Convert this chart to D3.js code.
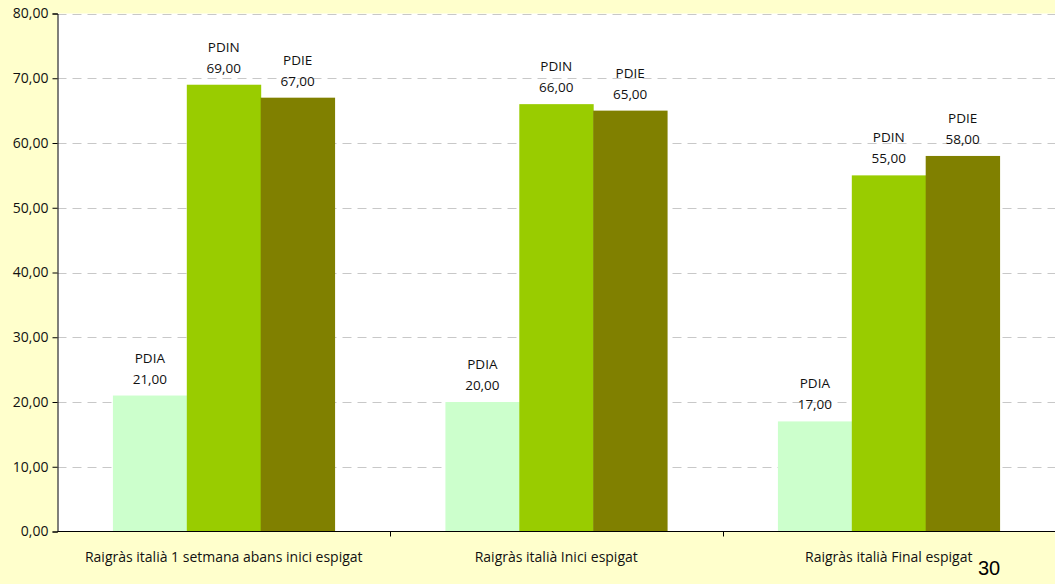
<!DOCTYPE html>
<html>
<head>
<meta charset="utf-8">
<script src="https://cdn.jsdelivr.net/npm/d3@7"></script>
<style>
  body { margin: 0; background: #ffffcc; }
  svg { display: block; }
</style>
</head>
<body>
<div class="viz"></div>
<script>
// data
var categories = ["Raigràs italià 1 setmana abans inici espigat", "Raigràs italià Inici espigat", "Raigràs italià Final espigat"];
var seriesNames = ["PDIA", "PDIN", "PDIE"];
var pdia = [21, 20, 17];
var pdin = [69, 66, 55];
var pdie = [67, 65, 58];
var yTicks = [0, 10, 20, 30, 40, 50, 60, 70, 80];
var colors = ["#ccffcc", "#99cc00", "#808000"];

var w = 1055;
var h = 584;
var plotL = 57.5, plotT = 13.5, plotB = 531.5, plotR = 1055;

var dataset = categories.map(function(c, i) {
    return { cat: c, values: [pdia[i], pdin[i], pdie[i]] };
});

var fmt = function(v) { return d3.format(".2f")(v).replace(".", ","); };

var xScale = d3.scaleBand()
            .domain(categories)
            .range([plotL, plotR])
            .paddingInner(0)
            .paddingOuter(0);

// Excel gap width 150%: bar group = 3 bars, gap = 1.5 bar
var barW = xScale.bandwidth() / 4.5;
var xInner = d3.scaleBand()
            .domain(seriesNames)
            .range([barW * 0.75, barW * 3.75]);

var yScale = d3.scaleLinear()
            .domain([0, 80])
            .range([plotB, plotT]);

var svg = d3.select(".viz")
        .append("svg")
        .attr("width", w)
        .attr("height", h);

svg.append("rect")
    .attr("x", 0).attr("y", 0)
    .attr("width", w).attr("height", h)
    .attr("fill", "#ffffcc");

svg.append("rect")
    .attr("x", plotL).attr("y", plotT)
    .attr("width", plotR - plotL).attr("height", plotB - plotT)
    .attr("fill", "white");

// gridlines
svg.append("g")
    .selectAll("line")
    .data(yTicks.slice(1))
    .enter()
    .append("line")
    .attr("x1", plotL)
    .attr("x2", plotR)
    .attr("y1", function(d) { return Math.round(yScale(d)) + 0.5; })
    .attr("y2", function(d) { return Math.round(yScale(d)) + 0.5; })
    .attr("stroke", "#c8c8c8")
    .attr("stroke-dasharray", "9,6");

// bars
var groups = svg.selectAll("g.grp")
    .data(dataset)
    .enter()
    .append("g")
    .attr("class", "grp")
    .attr("transform", function(d) { return "translate(" + xScale(d.cat) + ",0)"; });

groups.selectAll("rect")
    .data(function(d) { return d.values.map(function(v, i) { return { name: seriesNames[i], v: v, i: i }; }); })
    .enter()
    .append("rect")
    .attr("x", function(d) { return xInner(d.name); })
    .attr("y", function(d) { return yScale(d.v); })
    .attr("width", xInner.bandwidth() + 0.5)
    .attr("height", function(d) { return plotB - yScale(d.v); })
    .attr("fill", function(d) { return colors[d.i]; });

// labels
var lbl = groups.selectAll("text")
    .data(function(d) { return d.values.map(function(v, i) { return { name: seriesNames[i], v: v }; }); })
    .enter()
    .append("text")
    .attr("text-anchor", "middle")
    .attr("font-family", "'Open Sans', sans-serif")
    .attr("font-size", "13.5px")
    .attr("fill", "#111");

lbl.append("tspan")
    .attr("x", function(d) { return xInner(d.name) + xInner.bandwidth() / 2; })
    .attr("y", function(d) { return yScale(d.v) - 33; })
    .text(function(d) { return d.name; });

lbl.append("tspan")
    .attr("x", function(d) { return xInner(d.name) + xInner.bandwidth() / 2; })
    .attr("y", function(d) { return yScale(d.v) - 12; })
    .text(function(d) { return fmt(d.v); });

// y axis
var yaxis = d3.axisLeft(yScale)
            .tickValues(yTicks)
            .tickFormat(fmt)
            .tickSize(5)
            .tickPadding(4);

var gy = svg.append("g")
    .attr("transform", "translate(" + plotL + ",0)")
    .call(yaxis);
gy.select(".domain").attr("stroke", "#000");
gy.selectAll(".tick line").attr("stroke", "#000");
gy.selectAll("text")
    .attr("font-family", "'Open Sans', sans-serif")
    .attr("font-size", "14px")
    .attr("fill", "#111");

// x axis
svg.append("line")
    .attr("x1", plotL).attr("x2", plotR)
    .attr("y1", plotB).attr("y2", plotB)
    .attr("stroke", "#000");

svg.append("g")
    .selectAll("line")
    .data(categories.slice(1))
    .enter()
    .append("line")
    .attr("x1", function(d) { return Math.round(xScale(d)) + 0.5; })
    .attr("x2", function(d) { return Math.round(xScale(d)) + 0.5; })
    .attr("y1", plotB)
    .attr("y2", plotB + 5)
    .attr("stroke", "#000");

svg.append("g")
    .selectAll("text")
    .data(categories)
    .enter()
    .append("text")
    .attr("x", function(d) { return xScale(d) + xScale.bandwidth() / 2; })
    .attr("y", 562)
    .attr("text-anchor", "middle")
    .attr("font-family", "'Open Sans', sans-serif")
    .attr("font-size", "14px")
    .attr("fill", "#111")
    .text(function(d) { return d; });

// page number
svg.append("text")
    .attr("x", 989)
    .attr("y", 575)
    .attr("text-anchor", "middle")
    .attr("font-family", "'Liberation Sans', Arial, sans-serif")
    .attr("font-size", "20px")
    .attr("fill", "#000")
    .text("30");
</script>
</body>
</html>
